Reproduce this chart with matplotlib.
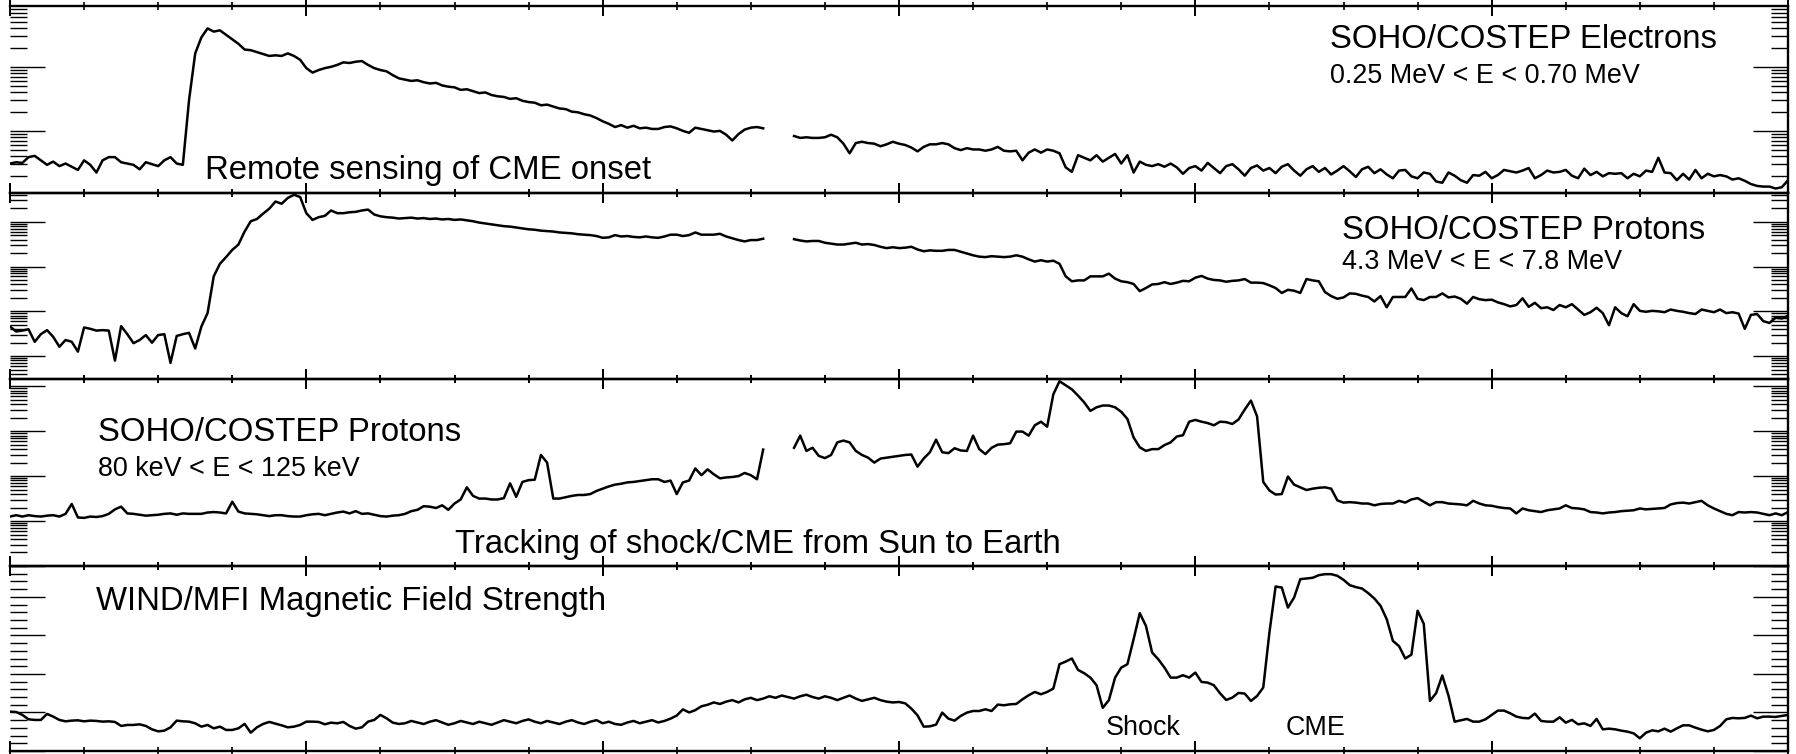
import numpy as np
import matplotlib
matplotlib.use("Agg")
import matplotlib.pyplot as plt
from matplotlib.ticker import LogLocator, MultipleLocator, NullFormatter

plt.rcParams['font.family'] = ['Liberation Sans', 'DejaVu Sans']

# time axis: hours from start of the 6-day window, half-hour samples
hours = np.arange(0, 144.5, 0.5)
nan = np.nan

# SOHO/COSTEP electrons 0.25-0.70 MeV, log10 intensity (one row = 6 h)
elec_log = [
    -2.51, -2.49, -2.50, -2.41, -2.39, -2.46, -2.53, -2.48, -2.55, -2.51, -2.56, -2.61,
    -2.46, -2.53, -2.65, -2.46, -2.41, -2.41, -2.49, -2.51, -2.53, -2.60, -2.49, -2.52,
    -2.55, -2.46, -2.41, -2.51, -2.53, -1.52, -0.79, -0.54, -0.40, -0.45, -0.43, -0.50,
    -0.57, -0.64, -0.73, -0.74, -0.77, -0.80, -0.83, -0.82, -0.83, -0.79, -0.83, -0.89,
    -1.02, -1.09, -1.05, -1.02, -1.00, -0.97, -0.93, -0.94, -0.92, -0.91, -0.97, -1.02,
    -1.05, -1.07, -1.13, -1.18, -1.20, -1.22, -1.21, -1.24, -1.26, -1.25, -1.29, -1.31,
    -1.32, -1.36, -1.35, -1.38, -1.41, -1.40, -1.44, -1.46, -1.47, -1.50, -1.49, -1.53,
    -1.55, -1.56, -1.60, -1.59, -1.62, -1.65, -1.66, -1.70, -1.71, -1.74, -1.76, -1.80,
    -1.85, -1.89, -1.94, -1.91, -1.95, -1.92, -1.96, -1.95, -1.97, -1.97, -1.94, -1.93,
    -1.96, -2.00, -2.03, -1.95, -1.97, -1.99, -2.01, -2.00, -2.06, -2.15, -2.05, -1.98,
    -1.95, -1.94, -1.96, nan, nan, nan, nan, -2.08, -2.11, -2.10, -2.11, -2.11,
    -2.10, -2.06, -2.10, -2.20, -2.35, -2.19, -2.17, -2.19, -2.20, -2.24, -2.21, -2.17,
    -2.20, -2.22, -2.26, -2.32, -2.25, -2.21, -2.21, -2.19, -2.21, -2.27, -2.30, -2.27,
    -2.29, -2.29, -2.31, -2.29, -2.25, -2.31, -2.32, -2.31, -2.46, -2.34, -2.29, -2.34,
    -2.29, -2.31, -2.35, -2.57, -2.64, -2.38, -2.42, -2.46, -2.38, -2.48, -2.42, -2.36,
    -2.51, -2.38, -2.65, -2.48, -2.53, -2.55, -2.52, -2.56, -2.51, -2.57, -2.67, -2.58,
    -2.55, -2.62, -2.50, -2.58, -2.66, -2.55, -2.52, -2.60, -2.70, -2.58, -2.54, -2.62,
    -2.58, -2.66, -2.56, -2.52, -2.62, -2.70, -2.60, -2.55, -2.64, -2.58, -2.68, -2.62,
    -2.55, -2.63, -2.72, -2.60, -2.56, -2.66, -2.60, -2.68, -2.74, -2.62, -2.61, -2.71,
    -2.74, -2.65, -2.67, -2.79, -2.81, -2.65, -2.70, -2.77, -2.81, -2.69, -2.70, -2.64,
    -2.74, -2.69, -2.61, -2.63, -2.65, -2.62, -2.58, -2.74, -2.69, -2.62, -2.65, -2.64,
    -2.61, -2.70, -2.74, -2.59, -2.69, -2.64, -2.71, -2.66, -2.67, -2.66, -2.74, -2.67,
    -2.71, -2.62, -2.64, -2.42, -2.65, -2.66, -2.77, -2.67, -2.76, -2.61, -2.74, -2.67,
    -2.71, -2.69, -2.71, -2.76, -2.74, -2.78, -2.83, -2.86, -2.87, -2.87, -2.90, -2.88,
    -2.77,
]

# SOHO/COSTEP protons 4.3-7.8 MeV, log10 intensity
prot_hi_log = [
    -2.34, -2.45, -2.43, -2.40, -2.68, -2.51, -2.42, -2.57, -2.79, -2.64, -2.68, -2.90,
    -2.36, -2.39, -2.43, -2.42, -2.43, -3.10, -2.33, -2.51, -2.71, -2.64, -2.53, -2.70,
    -2.53, -2.51, -3.15, -2.55, -2.51, -2.48, -2.83, -2.34, -2.04, -1.22, -0.94, -0.79,
    -0.63, -0.51, -0.22, 0.01, 0.06, 0.18, 0.29, 0.45, 0.40, 0.53, 0.60, 0.55,
    0.19, 0.04, 0.10, 0.13, 0.25, 0.19, 0.19, 0.21, 0.22, 0.25, 0.27, 0.16,
    0.12, 0.10, 0.09, 0.07, 0.08, 0.09, 0.07, 0.08, 0.06, 0.07, 0.05, 0.06,
    0.04, 0.05, 0.03, 0.01, -0.02, -0.04, -0.06, -0.08, -0.10, -0.11, -0.13, -0.15,
    -0.17, -0.18, -0.20, -0.21, -0.22, -0.24, -0.25, -0.26, -0.28, -0.29, -0.30, -0.32,
    -0.36, -0.35, -0.30, -0.33, -0.32, -0.34, -0.35, -0.33, -0.35, -0.36, -0.33, -0.29,
    -0.29, -0.32, -0.30, -0.24, -0.29, -0.29, -0.29, -0.27, -0.33, -0.37, -0.41, -0.44,
    -0.41, -0.41, -0.38, nan, nan, nan, nan, -0.39, -0.42, -0.44, -0.43, -0.43,
    -0.47, -0.49, -0.51, -0.51, -0.49, -0.47, -0.51, -0.50, -0.52, -0.56, -0.59, -0.57,
    -0.59, -0.58, -0.56, -0.62, -0.66, -0.64, -0.65, -0.65, -0.63, -0.63, -0.67, -0.71,
    -0.75, -0.78, -0.79, -0.77, -0.78, -0.79, -0.78, -0.75, -0.78, -0.84, -0.89, -0.86,
    -0.89, -0.87, -0.94, -1.22, -1.33, -1.31, -1.31, -1.22, -1.22, -1.22, -1.16, -1.27,
    -1.33, -1.35, -1.39, -1.55, -1.48, -1.40, -1.39, -1.35, -1.39, -1.36, -1.32, -1.33,
    -1.25, -1.21, -1.27, -1.30, -1.31, -1.34, -1.32, -1.31, -1.28, -1.36, -1.36, -1.37,
    -1.42, -1.48, -1.59, -1.52, -1.54, -1.59, -1.28, -1.31, -1.33, -1.57, -1.66, -1.72,
    -1.69, -1.60, -1.61, -1.65, -1.68, -1.78, -1.66, -1.91, -1.68, -1.68, -1.68, -1.49,
    -1.72, -1.75, -1.68, -1.68, -1.60, -1.69, -1.67, -1.72, -1.83, -1.68, -1.73, -1.75,
    -1.74, -1.80, -1.84, -1.89, -1.86, -1.71, -1.90, -1.81, -1.93, -1.91, -1.97, -1.86,
    -1.91, -1.84, -1.96, -2.08, -2.02, -1.92, -2.04, -2.31, -1.91, -2.04, -2.11, -1.84,
    -1.99, -2.01, -1.99, -2.00, -2.02, -1.96, -1.99, -2.01, -2.04, -2.06, -1.96, -1.99,
    -2.02, -1.96, -2.04, -2.02, -2.05, -2.39, -2.08, -2.06, -2.22, -2.26, -2.14, -2.16,
    -2.10,
]

# SOHO/COSTEP protons 80-125 keV, log10 intensity
prot_lo_log = [
    0.10, 0.13, 0.10, 0.13, 0.11, 0.10, 0.12, 0.13, 0.10, 0.16, 0.38, 0.08,
    0.07, 0.10, 0.09, 0.11, 0.16, 0.26, 0.32, 0.17, 0.16, 0.14, 0.12, 0.13,
    0.14, 0.16, 0.17, 0.14, 0.17, 0.16, 0.16, 0.16, 0.19, 0.20, 0.19, 0.17,
    0.43, 0.21, 0.17, 0.16, 0.15, 0.13, 0.11, 0.13, 0.13, 0.11, 0.10, 0.10,
    0.13, 0.15, 0.16, 0.13, 0.16, 0.19, 0.21, 0.17, 0.22, 0.16, 0.17, 0.14,
    0.11, 0.10, 0.12, 0.13, 0.16, 0.22, 0.25, 0.33, 0.32, 0.29, 0.35, 0.25,
    0.39, 0.48, 0.75, 0.56, 0.50, 0.50, 0.48, 0.48, 0.51, 0.84, 0.54, 0.87,
    0.91, 0.92, 1.47, 1.30, 0.50, 0.50, 0.53, 0.56, 0.58, 0.58, 0.60, 0.67,
    0.72, 0.77, 0.81, 0.83, 0.86, 0.87, 0.89, 0.91, 0.93, 0.93, 0.87, 0.90,
    0.60, 0.86, 0.90, 1.17, 1.02, 1.15, 1.04, 0.95, 0.97, 0.98, 1.00, 1.07,
    1.02, 0.93, 1.59, nan, nan, nan, nan, 1.63, 1.90, 1.56, 1.63, 1.45,
    1.40, 1.47, 1.75, 1.79, 1.75, 1.56, 1.47, 1.41, 1.30, 1.39, 1.41, 1.43,
    1.45, 1.47, 1.48, 1.21, 1.39, 1.53, 1.81, 1.53, 1.51, 1.62, 1.57, 1.56,
    1.90, 1.60, 1.49, 1.63, 1.70, 1.71, 1.73, 1.99, 1.99, 1.90, 2.13, 2.21,
    2.10, 2.82, 3.11, 3.02, 2.93, 2.79, 2.64, 2.45, 2.53, 2.57, 2.57, 2.53,
    2.43, 2.27, 1.86, 1.64, 1.56, 1.60, 1.60, 1.69, 1.75, 1.88, 1.91, 2.21,
    2.25, 2.21, 2.18, 2.13, 2.21, 2.20, 2.16, 2.26, 2.48, 2.68, 2.33, 0.87,
    0.68, 0.59, 0.60, 0.99, 0.81, 0.75, 0.69, 0.72, 0.74, 0.75, 0.72, 0.46,
    0.41, 0.42, 0.41, 0.39, 0.39, 0.35, 0.38, 0.39, 0.39, 0.45, 0.41, 0.48,
    0.51, 0.43, 0.35, 0.42, 0.42, 0.39, 0.38, 0.37, 0.35, 0.45, 0.39, 0.35,
    0.34, 0.31, 0.29, 0.28, 0.17, 0.28, 0.24, 0.22, 0.20, 0.24, 0.26, 0.28,
    0.35, 0.29, 0.28, 0.26, 0.20, 0.19, 0.17, 0.19, 0.20, 0.22, 0.23, 0.24,
    0.28, 0.26, 0.27, 0.28, 0.29, 0.37, 0.40, 0.41, 0.39, 0.42, 0.45, 0.35,
    0.28, 0.22, 0.16, 0.13, 0.20, 0.19, 0.20, 0.19, 0.16, 0.13, 0.17, 0.13,
    0.20,
]

# WIND/MFI magnetic field strength (nT)
bfield = [
    5.11, 5.06, 4.68, 4.11, 4.03, 4.03, 4.81, 4.46, 4.03, 3.85, 3.94, 3.98,
    3.85, 3.94, 3.90, 3.81, 3.85, 3.77, 3.25, 3.38, 3.38, 3.46, 3.25, 2.81,
    2.55, 2.64, 3.07, 3.94, 3.85, 3.81, 3.59, 3.16, 3.38, 2.94, 3.16, 2.73,
    2.73, 2.94, 3.51, 2.38, 3.07, 3.51, 3.77, 3.55, 3.33, 3.07, 3.16, 3.38,
    3.81, 3.81, 3.77, 3.46, 3.68, 3.59, 3.77, 3.25, 2.90, 3.07, 3.81, 4.03,
    4.68, 4.24, 3.68, 3.51, 3.60, 3.90, 3.70, 3.50, 3.80, 4.00, 3.70, 3.40,
    3.60, 3.90, 3.70, 3.50, 3.80, 3.60, 3.40, 3.70, 4.00, 3.80, 3.60, 3.90,
    4.10, 3.80, 3.60, 3.90, 3.70, 3.50, 3.80, 4.00, 3.70, 3.50, 3.80, 4.00,
    3.60, 3.80, 3.50, 3.40, 3.70, 3.90, 3.60, 3.80, 4.00, 3.70, 3.90, 4.20,
    4.60, 5.40, 5.00, 5.30, 5.80, 6.00, 6.30, 6.10, 6.40, 6.60, 6.30, 6.70,
    6.90, 6.60, 6.80, 7.10, 6.90, 7.20, 7.00, 6.80, 7.10, 7.30, 7.00, 6.80,
    7.10, 6.90, 6.60, 6.90, 7.20, 6.80, 6.50, 6.70, 6.90, 6.60, 6.40, 6.30,
    6.36, 6.19, 5.50, 4.63, 3.16, 3.20, 3.42, 4.98, 4.20, 3.94, 4.55, 4.98,
    5.19, 5.19, 5.41, 5.19, 6.02, 5.93, 6.06, 6.10, 6.71, 7.23, 7.66, 7.36,
    7.66, 8.10, 11.26, 11.60, 12.00, 10.52, 10.09, 9.52, 8.53, 5.60, 6.60, 9.52,
    10.82, 11.26, 14.50, 17.88, 16.23, 12.77, 11.90, 10.82, 9.52, 9.52, 9.83, 9.52,
    10.17, 8.96, 8.87, 8.53, 7.49, 6.62, 6.93, 7.53, 7.45, 6.49, 7.14, 8.23,
    15.37, 21.34, 21.21, 18.61, 19.91, 22.29, 22.38, 22.47, 22.81, 22.94, 22.94, 22.73,
    22.21, 21.52, 21.26, 21.08, 20.48, 19.78, 18.83, 17.10, 14.29, 13.60, 12.00, 12.50,
    18.20, 16.50, 6.50, 7.50, 9.80, 7.20, 3.80, 3.98, 4.16, 3.81, 3.81, 4.11,
    4.68, 5.24, 5.24, 4.89, 4.46, 4.29, 4.24, 4.85, 3.90, 3.81, 3.81, 4.37,
    3.68, 4.03, 3.46, 3.59, 3.25, 4.16, 2.81, 2.90, 2.81, 2.64, 2.51, 2.29,
    1.65, 2.38, 2.68, 2.55, 2.90, 2.51, 2.94, 3.33, 3.33, 3.03, 2.77, 2.55,
    2.73, 3.25, 4.11, 4.29, 4.24, 4.29, 4.59, 4.24, 4.46, 4.46, 4.42, 4.55,
    4.68,
]

W, H = 1796, 754
fig = plt.figure(figsize=(W / 100, H / 100), dpi=100)

# panel frame in pixels
left_px, right_px = 10, 1788
edges = [6, 193, 379, 566, 751]

series = [
    (10 ** np.array(elec_log), True, (10 ** -2.97, 10 ** -0.05)),
    (10 ** np.array(prot_hi_log), True, (10 ** -3.51, 10 ** 0.64)),
    (10 ** np.array(prot_lo_log), True, (10 ** -1.0, 10 ** 3.16)),
    (np.array(bfield), False, (0, 24)),
]

axes = []
for i, (vals, is_log, ylim) in enumerate(series):
    top, bot = edges[i], edges[i + 1]
    ax = fig.add_axes([left_px / W, 1 - bot / H, (right_px - left_px) / W, (bot - top) / H])
    ax.plot(hours, vals, color='black', lw=1.8, solid_joinstyle='round')
    ax.set_xlim(0, 144)
    if is_log:
        ax.set_yscale('log')
        ax.yaxis.set_major_locator(LogLocator(base=10, numticks=20))
        ax.yaxis.set_minor_locator(LogLocator(base=10, subs=np.arange(2, 10), numticks=20))
    else:
        ax.yaxis.set_major_locator(MultipleLocator(5))
        ax.yaxis.set_minor_locator(MultipleLocator(1))
    ax.set_ylim(*ylim)
    ax.yaxis.set_minor_formatter(NullFormatter())
    ax.xaxis.set_major_locator(MultipleLocator(24))
    ax.xaxis.set_minor_locator(MultipleLocator(6))
    ax.tick_params(axis='x', which='major', direction='inout', length=14, width=1.4,
                   top=True, bottom=True, labelbottom=False)
    ax.tick_params(axis='x', which='minor', direction='inout', length=6, width=1.2,
                   top=True, bottom=True)
    ax.tick_params(axis='y', which='major', direction='in', length=25, width=1.0,
                   left=True, right=True, labelleft=False)
    ax.tick_params(axis='y', which='minor', direction='in', length=12, width=1.0,
                   left=True, right=True)
    ax.spines['left'].set_visible(False)
    for s in ('top', 'bottom', 'right'):
        ax.spines[s].set_linewidth(1.7)
    ax.set_facecolor('none')
    axes.append(ax)


def label(x, y, s, size):
    fig.text(x / W, 1 - y / H, s, fontsize=size, va='baseline', ha='left')


big, small = 23.7, 19.4
label(1330, 48, 'SOHO/COSTEP Electrons', big)
label(1330, 83, '0.25 MeV < E < 0.70 MeV', small)
label(205, 179, 'Remote sensing of CME onset', big)
label(1342, 239, 'SOHO/COSTEP Protons', big)
label(1342, 269, '4.3 MeV < E < 7.8 MeV', small)
label(98, 441, 'SOHO/COSTEP Protons', big)
label(98, 476, '80 keV < E < 125 keV', small)
label(455, 553, 'Tracking of shock/CME from Sun to Earth', big)
label(96, 610, 'WIND/MFI Magnetic Field Strength', big)
label(1106, 735, 'Shock', small)
label(1286, 735, 'CME', small)

fig.savefig('out.png', dpi=100)
